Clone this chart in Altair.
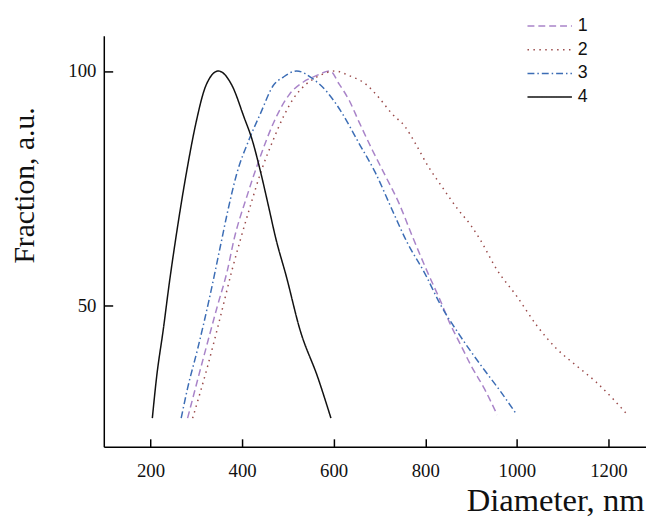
import altair as alt
import pandas as pd

series_names = ["1", "2", "3", "4"]

s1_x = [281, 317, 346, 368, 382, 411, 440, 468, 504, 533, 562, 592, 612, 634, 655, 684, 713, 742, 771, 806, 832, 853, 878, 900, 929, 957]
s1_y = [25.9, 39.3, 49.8, 57.5, 63.9, 73.4, 81.8, 88.8, 95.1, 97.6, 99.0, 100, 97.2, 93.7, 89.2, 83.2, 77.6, 71.9, 64.9, 56.8, 51.2, 46.3, 41.4, 37.1, 32.2, 26.6]

s2_x = [292, 325, 353, 378, 396, 418, 443, 468, 490, 512, 540, 569, 603, 634, 670, 698, 727, 756, 778, 806, 835, 871, 900, 918, 957, 1000, 1044, 1087, 1130, 1173, 1209, 1238]
s2_y = [25.9, 37.1, 47.7, 57.5, 63.9, 71.2, 79.0, 85.3, 90.2, 94.1, 97.2, 99.0, 100, 99.0, 97.2, 94.4, 90.9, 88.1, 84.6, 79.7, 75.5, 70.5, 67.0, 64.3, 57.5, 51.9, 45.6, 40.7, 37.1, 33.6, 30.1, 27.0]

s3_x = [267, 281, 303, 328, 353, 368, 389, 415, 440, 468, 490, 519, 555, 583, 605, 619, 655, 691, 727, 760, 799, 835, 871, 922, 965, 1000]
s3_y = [25.9, 32.3, 40.7, 51.2, 62.8, 69.8, 78.3, 85.3, 90.9, 96.9, 98.7, 100, 98.3, 95.8, 93.0, 90.9, 84.6, 78.3, 70.5, 63.5, 56.8, 49.8, 44.2, 37.1, 31.5, 26.6]

s4_x = [204, 213, 228, 242, 254, 281, 299, 321, 348, 378, 404, 422, 440, 458, 473, 497, 526, 566, 594]
s4_y = [25.9, 34.4, 44.9, 55.4, 63.5, 79.7, 88.8, 96.9, 100, 96.9, 90.2, 85.3, 78.6, 71.0, 64.5, 56.0, 44.9, 34.4, 25.9]

x_ticks = [200, 400, 600, 800, 1000, 1200]
y_ticks = [50, 100]

colors = ["#a984c9", "#9a4a4a", "#3c6db5", "#111111"]
dashes = [[7, 4], [1.5, 4.5], [7, 3, 1.5, 3], [1, 0]]
widths = [1.5, 1.5, 1.5, 2.0]

rows = []
for name, xs, ys in zip(series_names, [s1_x, s2_x, s3_x, s4_x], [s1_y, s2_y, s3_y, s4_y]):
    for xv, yv in zip(xs, ys):
        rows.append({"s": name, "d": xv, "f": yv})
df = pd.DataFrame(rows)

xscale = alt.Scale(domain=[98, 1282], nice=False, zero=False)
yscale = alt.Scale(domain=[19.8, 107.5], nice=False, zero=False)

legend = alt.Legend(
    title=None, orient="none", legendX=428, legendY=-19, symbolType="stroke",
    symbolSize=2025, symbolStrokeWidth=1.5, labelFont="Liberation Sans",
    labelFontSize=18, labelColor="#111111", labelOffset=5, clipHeight=18,
    rowPadding=6, padding=0,
)

# negative tick sizes (given as expressions) draw the ticks inside the plot;
# label offset = tickSize + labelPadding
x_axis = alt.Axis(
    values=x_ticks, format="d", ticks=True, tickColor="#000000", tickWidth=1.5,
    tickSize=alt.ExprRef(expr="-8"), labelPadding=23,
    titleX=547, titleY=65, titleAlign="right", titleBaseline="alphabetic",
    titleAnchor="end", titleFontSize=33,
)
y_axis = alt.Axis(
    values=y_ticks, format="d", ticks=True, tickColor="#000000", tickWidth=1.5,
    tickSize=alt.ExprRef(expr="-9"), labelPadding=17,
    titleX=-80, titleY=151, titleAngle=270, titleAlign="center", titleBaseline="middle",
)

chart = alt.Chart(df).mark_line(interpolate="monotone").encode(
    x=alt.X("d:Q", scale=xscale, title="Diameter, nm", axis=x_axis),
    y=alt.Y("f:Q", scale=yscale, title="Fraction, a.u.", axis=y_axis),
    color=alt.Color("s:N", scale=alt.Scale(domain=series_names, range=colors), legend=legend),
    strokeDash=alt.StrokeDash("s:N", scale=alt.Scale(domain=series_names, range=dashes), legend=legend),
    strokeWidth=alt.StrokeWidth("s:N", scale=alt.Scale(domain=series_names, range=widths), legend=None),
).properties(
    width=549, height=416,
    autosize=alt.AutoSizeParams(type="none"),
    padding={"left": 97, "top": 25, "right": 0, "bottom": 72},
    background="white",
).configure_view(stroke=None).configure_axis(
    grid=False, domainColor="black", domainWidth=1.5,
    labelFont="Liberation Serif", labelFontSize=19, labelColor="#111111",
    titleFont="Liberation Serif", titleFontSize=30, titleFontWeight="normal", titleColor="#111111",
)

chart.save("out.html", embed_options={"renderer": "svg", "actions": False})
